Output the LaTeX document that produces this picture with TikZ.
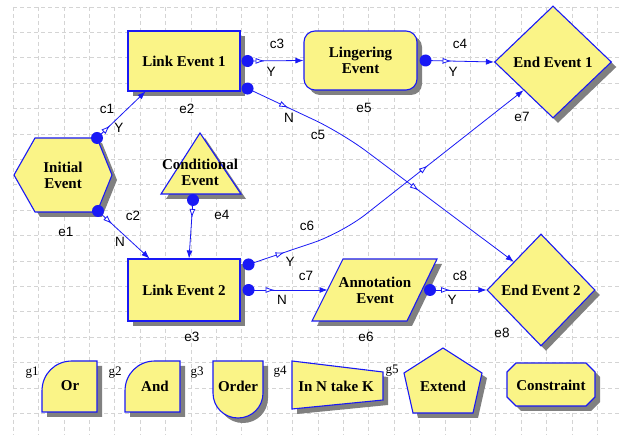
\documentclass[tikz,border=0pt]{standalone}
\usepackage{fontspec}
\setmainfont{Liberation Serif}
\newfontfamily\lblfont{Liberation Sans}
\usetikzlibrary{arrows.meta,shapes.geometric,shadows,decorations.markings}
\definecolor{evyellow}{RGB}{250,244,135}
\definecolor{evblue}{RGB}{25,25,245}
\definecolor{shadowgray}{RGB}{128,128,128}
\definecolor{gridgray}{RGB}{212,212,212}
\begin{document}
\begin{tikzpicture}[x=1pt,y=-1pt,
  evshape/.style={fill=evyellow, draw=evblue, line width=1.1pt,
    general shadow={fill=shadowgray, shadow xshift=5pt, shadow yshift=-5pt}},
  evtext/.style={font=\fontsize{15}{16}\selectfont\bfseries, align=center, inner sep=0pt},
  lbl/.style={font=\lblfont\fontsize{13.5}{13.5}\selectfont, inner sep=0pt},
  glbl/.style={font=\fontsize{13}{13}\selectfont, inner sep=0pt},
  gridline/.style={gridgray, line width=0.6pt, dash pattern=on 4pt off 3pt},
  conn/.style={draw=evblue, line width=0.8pt, -{Latex[length=8pt,width=6pt]}},
  hollowat/.style={postaction={decorate}, decoration={markings,
    mark=at position #1 with {\arrow{Latex[color=evblue,fill=white,length=9pt,width=6pt]}}}},
  hollowtwo/.style 2 args={postaction={decorate}, decoration={markings,
    mark=at position #1 with {\arrow{Latex[color=evblue,fill=white,length=9pt,width=6pt]}},
    mark=at position #2 with {\arrow{Latex[color=evblue,fill=white,length=9pt,width=6pt]}}}},
  startdot/.style={fill=evblue},
]
\useasboundingbox (0,0) rectangle (619,435);
\fill[white] (0,0) rectangle (619,435);
% grid
\foreach \i in {0,...,23} \draw[gridline] ({13+25.4*\i},7) -- ({13+25.4*\i},435);
\foreach \j in {0,...,16} \draw[gridline] (13,{7+25.4*\j}) -- (619,{7+25.4*\j});

% ---- event shapes ----
\node[evshape, evtext, rectangle, minimum width=112pt, minimum height=60pt] (e2) at (184,61) {Link Event 1};
\node[evshape, evtext, rectangle, minimum width=112pt, minimum height=62pt] (e3) at (184,290) {Link Event 2};
\node[evshape, evtext, rectangle, rounded corners=11pt, minimum width=113pt, minimum height=59pt] (e5) at (360.5,60.5) {Lingering\\Event};
\node[evshape, evtext, diamond, minimum width=117pt, minimum height=112pt] (e7) at (553,62) {End Event 1};
\node[evshape, evtext, diamond, minimum width=108pt, minimum height=112pt] (e8) at (541,290) {End Event 2};

\path[evshape] (14,175) -- (35,138) -- (97,138) -- (112,175) -- (97,212) -- (35,212) -- cycle;
\node[evtext] (e1) at (63,175) {Initial\\Event};
\coordinate (e1ne) at (97,138);
\coordinate (e1se) at (98,211);

\path[evshape] (200,133) -- (241,194) -- (161,194) -- cycle;
\node[evtext] (e4) at (200,172) {Conditional\\Event};
\coordinate (e4s) at (193,200);

\path[evshape] (343,259) -- (437,259) -- (407,321) -- (312,321) -- cycle;
\node[evtext] (e6) at (375,290) {Annotation\\Event};
\coordinate (e6w) at (327.5,290);
\coordinate (e6e) at (430,290);

% ---- gate shapes ----
\path[evshape] (42,412) -- (42,391) .. controls (42,374) and (55,361) .. (72,361) -- (97,361) -- (97,412) -- cycle;
\node[evtext] (or) at (70,386) {Or};
\path[evshape] (125,412) -- (125,391) .. controls (125,374) and (138,361) .. (155,361) -- (180,361) -- (180,412) -- cycle;
\node[evtext] (and) at (155,386) {And};
\path[evshape] (213,361) -- (263,361) -- (263,393) .. controls (263,407) and (252,418) .. (238,418) .. controls (224,418) and (213,407) .. (213,393) -- cycle;
\node[evtext] (order) at (238,386) {Order};
\path[evshape] (292,361) -- (383,372) -- (383,400) -- (292,409) -- cycle;
\node[evtext] (innk) at (336,386) {In N take K};
\path[evshape] (443,348) -- (482,373) -- (473,413) -- (413,413) -- (404,373) -- cycle;
\node[evtext] (extend) at (443,386) {Extend};
\path[evshape] (516,363) -- (586,363) -- (595,372) -- (595,397) -- (586,406) -- (516,406) -- (507,397) -- (507,372) -- cycle;
\node[evtext] (constraint) at (551,385) {Constraint};

% ---- connectors ----
% c1
\draw[conn, hollowat=18pt] (e1ne) -- ([xshift=18pt]e2.south west);
\fill[startdot] (e1ne) circle (6pt);
% c2
\draw[conn, hollowat=19pt] (e1se) -- ([xshift=22pt]e3.north west);
\fill[startdot] (e1se) circle (6pt);
% c3
\draw[conn, hollowat=17pt] ([xshift=7pt]e2.east) -- (e5.west);
\fill[startdot] ([xshift=7pt]e2.east) circle (6pt);
% c4
\draw[conn, hollowat=26pt] ([xshift=8pt]e5.east) -- (e7.west);
\fill[startdot] ([xshift=8pt]e5.east) circle (6pt);
% c5
\draw[conn, rounded corners=30pt, hollowtwo={45pt}{200pt}] ([xshift=7pt,yshift=3pt]e2.south east) -- (342,133) -- (e8.north west);
\fill[startdot] ([xshift=7pt,yshift=3pt]e2.south east) circle (6pt);
% c6
\draw[conn, rounded corners=30pt, hollowtwo={38pt}{207pt}] ([xshift=8pt,yshift=-6pt]e3.north east) -- (342,233) -- (e7.south west);
\fill[startdot] ([xshift=8pt,yshift=-6pt]e3.north east) circle (6pt);
% e4 -> e3
\draw[conn, hollowat=18pt] (e4s) -- ([xshift=5pt]e3.north);
\fill[startdot] (e4s) circle (6pt);
% c7
\draw[conn, hollowat=26pt] ([xshift=8pt]e3.east) -- (e6w);
\fill[startdot] ([xshift=8pt]e3.east) circle (6pt);
% c8
\draw[conn, hollowat=20pt] (e6e) -- (e8.west);
\fill[startdot] (e6e) circle (6pt);

% ---- labels ----
\node[lbl] (lc1) at (107,109) {c1};
\node[lbl] (ly1) at (119,128) {Y};
\node[lbl] (le2) at (187,109) {e2};
\node[lbl] (lc3) at (277,44) {c3};
\node[lbl] (ly3) at (271,72) {Y};
\node[lbl] (ln5) at (289,118) {N};
\node[lbl] (lc5) at (318,135) {c5};
\node[lbl] (le5) at (364,108) {e5};
\node[lbl] (lc4) at (460,44) {c4};
\node[lbl] (ly4) at (453,72) {Y};
\node[lbl] (le7) at (522,117) {e7};
\node[lbl] (lc2) at (133,216) {c2};
\node[lbl] (ln2) at (120,242) {N};
\node[lbl] (le1) at (66,232) {e1};
\node[lbl] (le4) at (222,215) {e4};
\node[lbl] (le3) at (192,337) {e3};
\node[lbl] (lc6) at (307,226) {c6};
\node[lbl] (ly6) at (290,262) {Y};
\node[lbl] (lc7) at (306,276) {c7};
\node[lbl] (ln7) at (282,300) {N};
\node[lbl] (le6) at (366,337) {e6};
\node[lbl] (lc8) at (460,276) {c8};
\node[lbl] (ly8) at (452,300) {Y};
\node[lbl] (le8) at (502,333) {e8};
\node[glbl] (g1) at (32,373) {g1};
\node[glbl] (g2) at (115,373) {g2};
\node[glbl] (g3) at (197,373) {g3};
\node[glbl] (g4) at (280,372) {g4};
\node[glbl] (g5) at (392,371) {g5};
\end{tikzpicture}
\end{document}
